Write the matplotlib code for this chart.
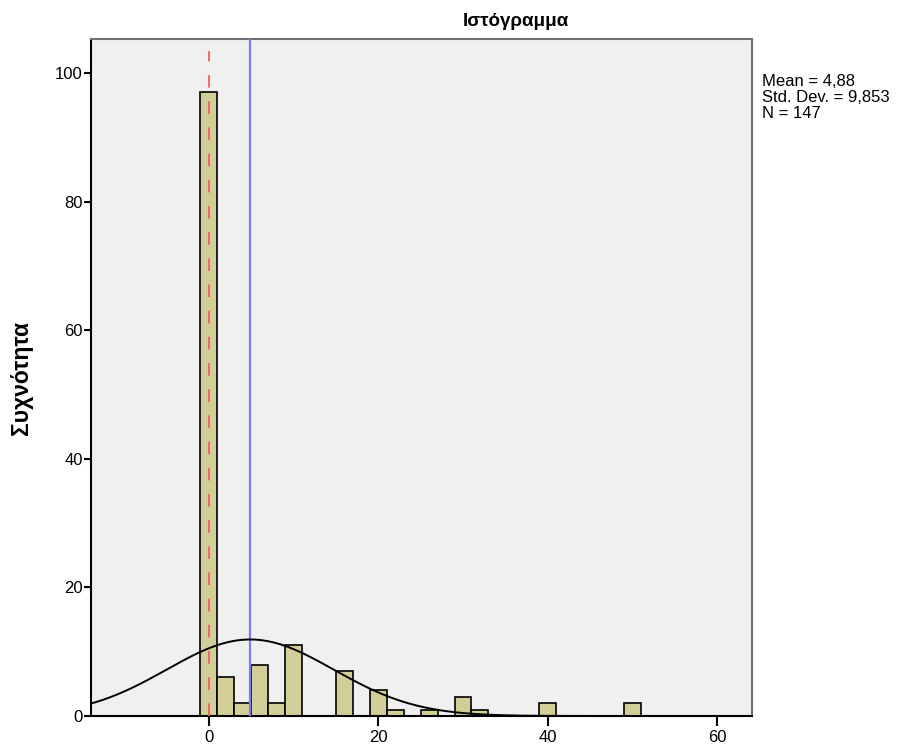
import numpy as np
import matplotlib
matplotlib.use("Agg")
import matplotlib.pyplot as plt

plt.rcParams['font.family'] = ['Liberation Sans', 'DejaVu Sans']

# Histogram bins (centres, width 2) and frequencies
bin_centers = [0, 2, 4, 6, 8, 10, 16, 20, 22, 26, 30, 32, 40, 50]
counts = [97, 6, 2, 8, 2, 11, 7, 4, 1, 1, 3, 1, 2, 2]
bin_width = 2

mean_val = 4.88
std_val = 9.853
n_val = 147
median_val = 0

title = "Ιστόγραμμα"
ylabel = "Συχνότητα"
stats_lines = ["Mean = 4,88", "Std. Dev. = 9,853", "N = 147"]
xticks = [0, 20, 40, 60]
yticks = [0, 20, 40, 60, 80, 100]

W, H = 901, 749
fig = plt.figure(figsize=(W / 100, H / 100), dpi=100)
left, right, top, bottom = 91, 752, 39, 716
ax = fig.add_axes([left / W, 1 - bottom / H, (right - left) / W, (bottom - top) / H])
ax.set_facecolor('#F0F0F0')

ax.bar(bin_centers, counts, width=bin_width, color='#D3CE97',
       edgecolor='black', linewidth=1.2, zorder=2)

xlim = (-13.9, 64.1)
ylim = (0, 105.3)
ax.set_xlim(*xlim)
ax.set_ylim(*ylim)

# Normal curve scaled to the histogram
xs = np.linspace(xlim[0], xlim[1], 600)
ys = n_val * bin_width / (std_val * np.sqrt(2 * np.pi)) * np.exp(-0.5 * ((xs - mean_val) / std_val) ** 2)
ax.plot(xs, ys, color='black', linewidth=1.4, zorder=4)

# Mean and median reference lines
ax.axvline(mean_val, color='#7B7BFF', linewidth=1.6, zorder=3)
ax.plot([median_val, median_val], [0, 103.5], color='#F06060', linewidth=1.3,
        dashes=(7, 7.5), zorder=3)

ax.set_xticks(xticks)
ax.set_yticks(yticks)
ax.tick_params(axis='x', direction='out', length=7, width=1.5, labelsize=12, pad=3)
ax.tick_params(axis='y', direction='out', length=5, width=1.5, labelsize=12, pad=1)

for s in ['left', 'bottom']:
    ax.spines[s].set_color('black')
    ax.spines[s].set_linewidth(1.5)
for s in ['top', 'right']:
    ax.spines[s].set_color('#707070')
    ax.spines[s].set_linewidth(1.5)

fig.text(516 / W, 1 - 21 / H, title, ha='center', va='center',
         fontsize=13.5, fontweight='bold')
fig.text(22 / W, 1 - 378 / H, ylabel, ha='center', va='center', rotation=90,
         fontsize=16.5, fontweight='bold')

for i, line in enumerate(stats_lines):
    fig.text(762 / W, 1 - (81 + i * 16) / H, line, ha='left', va='center', fontsize=12)

fig.savefig('out.png', dpi=100)
